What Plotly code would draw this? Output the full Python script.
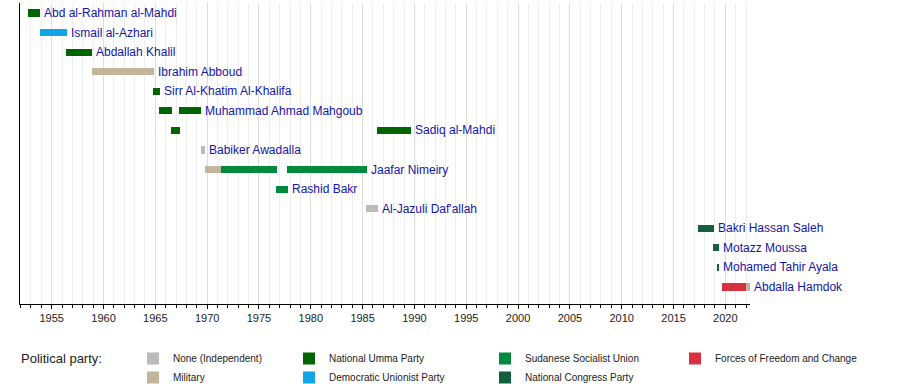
import plotly.graph_objects as go

# ---- data ----
leaders = ["Abd al-Rahman al-Mahdi", "Ismail al-Azhari", "Abdallah Khalil", "Ibrahim Abboud",
           "Sirr Al-Khatim Al-Khalifa", "Muhammad Ahmad Mahgoub", "Sadiq al-Mahdi", "Babiker Awadalla",
           "Jaafar Nimeiry", "Rashid Bakr", "Al-Jazuli Daf'allah", "Bakri Hassan Saleh",
           "Motazz Moussa", "Mohamed Tahir Ayala", "Abdalla Hamdok"]

term_row = [0, 1, 2, 3, 4, 5, 5, 6, 6, 7, 8, 8, 8, 9, 10, 11, 12, 13, 14, 14]
term_start = [1952.7, 1953.9, 1956.4, 1958.85, 1964.8, 1965.4, 1967.3, 1966.55, 1986.35, 1969.4,
              1969.78, 1971.35, 1977.7, 1976.65, 1985.33, 2017.4, 2018.84, 2019.2, 2019.7, 2022.0]
term_end = [1953.9, 1956.45, 1958.87, 1964.85, 1965.43, 1966.6, 1969.45, 1967.38, 1989.65, 1969.8,
            1971.35, 1976.75, 1985.4, 1977.8, 1986.5, 2018.9, 2019.4, 2019.4, 2022.0, 2022.35]
term_party = ["National Umma Party", "Democratic Unionist Party", "National Umma Party", "Military",
              "National Umma Party", "National Umma Party", "National Umma Party", "National Umma Party",
              "National Umma Party", "None (Independent)", "Military", "Sudanese Socialist Union",
              "Sudanese Socialist Union", "Sudanese Socialist Union", "None (Independent)",
              "National Congress Party", "National Congress Party", "National Congress Party",
              "Forces of Freedom and Change", "Military"]

parties = ["None (Independent)", "Military", "National Umma Party", "Democratic Unionist Party",
           "Sudanese Socialist Union", "National Congress Party", "Forces of Freedom and Change"]
party_colors = ["#bbbbbb", "#c3b49b", "#006400", "#12a4e6", "#008a3e", "#155e3d", "#d8303f"]
party_legend = ["legend", "legend", "legend2", "legend2", "legend3", "legend3", "legend4"]

W, H = 900, 384
L, R, T, B = 20, 150, 3, 80
pw, ph = W - L - R, H - T - B

def px_x(px):
    return (px - L) / pw

def px_y(py):
    return (H - B - py) / ph

fig = go.Figure()

for p, col, lg in zip(parties, party_colors, party_legend):
    idx = [i for i, tp in enumerate(term_party) if tp == p]
    fig.add_trace(go.Bar(
        orientation="h",
        y=[term_row[i] for i in idx],
        base=[term_start[i] for i in idx],
        x=[term_end[i] - term_start[i] for i in idx],
        width=0.36,
        marker=dict(color=col, line=dict(width=0)),
        name=p,
        legend=lg,
        showlegend=True,
        hoverinfo="skip",
    ))

# name labels after the last term of each leader
for r, name in enumerate(leaders):
    last_end = max(e for e, rr in zip(term_end, term_row) if rr == r)
    fig.add_annotation(x=last_end, y=r, xref="x", yref="y", text=name, showarrow=False,
                       xanchor="left", yanchor="middle", xshift=2,
                       font=dict(family="Liberation Sans, Arial", size=12, color="#1414a8"))

fig.add_annotation(x=px_x(19), y=px_y(358), xref="paper", yref="paper", text="Political party:",
                   showarrow=False, xanchor="left", yanchor="middle",
                   font=dict(family="Liberation Sans, Arial", size=13, color="#222222"))

legend_style = dict(orientation="v", xanchor="left", yanchor="top", bgcolor="rgba(0,0,0,0)",
                    font=dict(family="Liberation Sans, Arial", size=10, color="#222222"),
                    tracegroupgap=0, itemclick=False, itemdoubleclick=False)
lx = [148, 304, 500, 690]
names_l = ["legend", "legend2", "legend3", "legend4"]
leg_layout = {}
for n, x0 in zip(names_l, lx):
    leg_layout[n] = dict(x=px_x(x0 - 15), y=px_y(344), **legend_style)

fig.update_layout(
    width=W, height=H,
    margin=dict(l=L, r=R, t=T, b=B, autoexpand=False),
    plot_bgcolor="white", paper_bgcolor="white",
    barmode="overlay",
    bargap=0,
    xaxis=dict(range=[1951.94, 2022.38], tick0=1955, dtick=5, showgrid=True, gridcolor="#dddddd",
               gridwidth=1, showline=True, linecolor="black", linewidth=1, ticks="outside",
               ticklen=4, tickcolor="black", zeroline=False, automargin=False,
               tickfont=dict(family="Liberation Sans, Arial", size=11, color="#222222"),
               minor=dict(dtick=1, tick0=1955, showgrid=True, gridcolor="#eeeeee", ticks="outside",
                          ticklen=3, tickcolor="black")),
    yaxis=dict(range=[14.87, -0.51], showticklabels=False, showgrid=False, zeroline=False,
               showline=True, linecolor="black", linewidth=1, ticks="", automargin=False),
    **leg_layout,
)

fig.write_html("out.html", config={"displayModeBar": False},
               post_script="document.body.style.margin='0';document.body.style.overflow='hidden';")
